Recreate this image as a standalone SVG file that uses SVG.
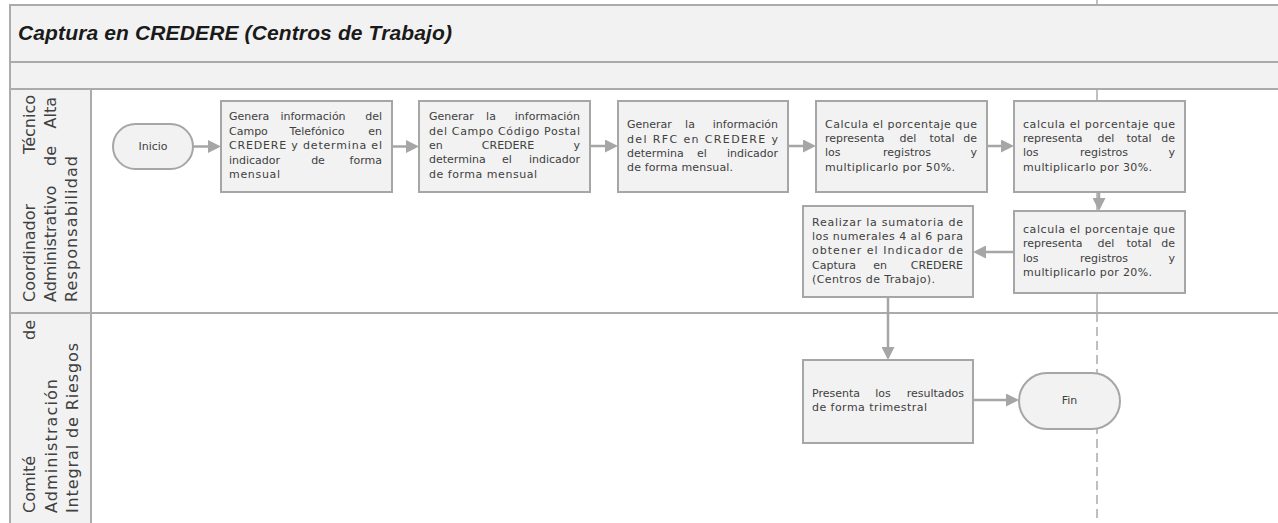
<svg xmlns="http://www.w3.org/2000/svg" width="1278" height="523" viewBox="0 0 1278 523">
<style>
.band{fill:#f2f2f2;stroke:#ababab;stroke-width:2}
.lane{fill:#ffffff;stroke:#ababab;stroke-width:2}
.hdr{fill:#f2f2f2;stroke:#ababab;stroke-width:2}
.box{fill:#f2f2f2;stroke:#a6a6a6;stroke-width:2}
.sep{stroke:#ababab;stroke-width:1.5;fill:none}
.dash{stroke:#ababab;stroke-width:1.5;fill:none;stroke-dasharray:9 5}
.conn{stroke:#a6a6a6;stroke-width:2.5;fill:none;marker-end:url(#ah)}
.t{font-family:"DejaVu Sans","Liberation Sans",sans-serif;font-size:11px;fill:#404040}
.lbl{font-family:"DejaVu Sans","Liberation Sans",sans-serif;font-size:16px;fill:#404040}
.title{font-family:"Liberation Sans",Arial,sans-serif;font-size:21px;font-weight:bold;font-style:italic;fill:#1a1a1a}
.m{text-anchor:middle}
.e{text-anchor:end}
</style>
<defs>
<marker id="ah" markerUnits="userSpaceOnUse" markerWidth="13" markerHeight="13" refX="2" refY="6.5" orient="auto">
<path d="M0,0 L13,6.5 L0,13 z" fill="#a6a6a6"/>
</marker>
</defs>
<rect x="0" y="0" width="1278" height="523" fill="#ffffff"/>
<g id="pool">
<line class="sep" x1="1097" y1="0" x2="1097" y2="5"/>
<rect class="band" x="10" y="5" width="1290" height="57"/>
<rect class="band" x="10" y="62" width="1290" height="27"/>
<text class="title" x="18" y="40" textLength="434" lengthAdjust="spacing">Captura en CREDERE (Centros de Trabajo)</text>
</g>
<g id="lane1">
<rect class="lane" x="10" y="89" width="1290" height="224"/>
<rect class="hdr" x="10" y="89" width="81" height="224"/>
<g transform="translate(35,302) rotate(-90)">
<text class="lbl" x="0" y="0">Coordinador</text>
<text class="lbl e" x="207" y="0">Técnico</text>
</g>
<g transform="translate(56,302) rotate(-90)">
<text class="lbl" x="0" y="0">Administrativo</text>
<text class="lbl m" x="146" y="0">de</text>
<text class="lbl e" x="205" y="0">Alta</text>
</g>
<g transform="translate(77,302) rotate(-90)">
<text class="lbl" x="0" y="0" textLength="146" lengthAdjust="spacing">Responsabilidad</text>
</g>
</g>
<g id="lane2">
<rect class="lane" x="10" y="313" width="1290" height="220"/>
<rect class="hdr" x="10" y="313" width="81" height="220"/>
<g transform="translate(35,513) rotate(-90)">
<text class="lbl" x="0" y="0">Comité</text>
<text class="lbl e" x="193" y="0">de</text>
</g>
<g transform="translate(57,513) rotate(-90)">
<text class="lbl" x="0" y="0" textLength="134" lengthAdjust="spacing">Administración</text>
</g>
<g transform="translate(78,513) rotate(-90)">
<text class="lbl" x="0" y="0" textLength="170" lengthAdjust="spacing">Integral de Riesgos</text>
</g>
</g>
<g id="phase-separator">
<line class="sep" x1="1097" y1="89" x2="1097" y2="313"/>
<line class="dash" x1="1097" y1="313" x2="1097" y2="523"/>
</g>
<g id="connectors">
<path class="conn" d="M193,146.5 H210"/>
<path class="conn" d="M392,146.5 H408"/>
<path class="conn" d="M590,146 H607"/>
<path class="conn" d="M788,146 H805"/>
<path class="conn" d="M987,146 H1003"/>
<path class="conn" d="M1099,192 V200"/>
<path class="conn" d="M1014,252 H984"/>
<path class="conn" d="M888,297 V349"/>
<path class="conn" d="M973,400 H1008"/>
</g>
<g id="inicio">
<rect class="box" x="113" y="124" width="80" height="45" rx="22.5"/>
<text class="t m" x="153" y="150">Inicio</text>
</g>
<g id="n1">
<rect class="box" x="221" y="101" width="171" height="91"/>
<text class="t" x="229" y="120">Genera</text><text class="t m" x="313" y="120">información</text><text class="t e" x="382" y="120">del</text>
<text class="t" x="229" y="134.5">Campo</text><text class="t m" x="317" y="134.5">Telefónico</text><text class="t e" x="382" y="134.5">en</text>
<text class="t" x="229" y="149" textLength="153" lengthAdjust="spacing">CREDERE y determina el</text>
<text class="t" x="229" y="163.5">indicador</text><text class="t m" x="318" y="163.5">de</text><text class="t e" x="382" y="163.5">forma</text>
<text class="t" x="229" y="178" textLength="51" lengthAdjust="spacing">mensual</text>
</g>
<g id="n2">
<rect class="box" x="419" y="101" width="171" height="91"/>
<text class="t" x="429" y="120">Generar</text><text class="t m" x="491" y="120">la</text><text class="t e" x="580" y="120">información</text>
<text class="t" x="429" y="134.5" textLength="151" lengthAdjust="spacing">del Campo Código Postal</text>
<text class="t" x="429" y="149">en</text><text class="t m" x="508" y="149">CREDERE</text><text class="t e" x="580" y="149">y</text>
<text class="t" x="429" y="163">determina</text><text class="t m" x="507" y="163">el</text><text class="t e" x="580" y="163">indicador</text>
<text class="t" x="429" y="177.5" textLength="108" lengthAdjust="spacing">de forma mensual</text>
</g>
<g id="n3">
<rect class="box" x="618" y="101" width="170" height="91"/>
<text class="t" x="627" y="128">Generar</text><text class="t m" x="690" y="128">la</text><text class="t e" x="778" y="128">información</text>
<text class="t" x="627" y="142.5" textLength="151" lengthAdjust="spacing">del RFC en CREDERE y</text>
<text class="t" x="627" y="157">determina</text><text class="t m" x="702" y="157">el</text><text class="t e" x="778" y="157">indicador</text>
<text class="t" x="627" y="171" textLength="106" lengthAdjust="spacing">de forma mensual.</text>
</g>
<g id="n4">
<rect class="box" x="816" y="101" width="171" height="91"/>
<text class="t" x="825" y="127.5" textLength="152" lengthAdjust="spacing">Calcula el porcentaje que</text>
<text class="t" x="825" y="142">representa</text><text class="t m" x="908" y="142">del</text><text class="t m" x="942" y="142">total</text><text class="t e" x="977" y="142">de</text>
<text class="t" x="825" y="156">los</text><text class="t m" x="907" y="156">registros</text><text class="t e" x="977" y="156">y</text>
<text class="t" x="825" y="170.5" textLength="130" lengthAdjust="spacing">multiplicarlo por 50%.</text>
</g>
<g id="n5">
<rect class="box" x="1014" y="101" width="171" height="91"/>
<text class="t" x="1023" y="127.5" textLength="152" lengthAdjust="spacing">calcula el porcentaje que</text>
<text class="t" x="1023" y="142">representa</text><text class="t m" x="1106" y="142">del</text><text class="t m" x="1139" y="142">total</text><text class="t e" x="1175" y="142">de</text>
<text class="t" x="1023" y="156">los</text><text class="t m" x="1104" y="156">registros</text><text class="t e" x="1175" y="156">y</text>
<text class="t" x="1023" y="170.5" textLength="129" lengthAdjust="spacing">multiplicarlo por 30%.</text>
</g>
<g id="n6">
<rect class="box" x="1014" y="211" width="171" height="82"/>
<text class="t" x="1023" y="232.5" textLength="152" lengthAdjust="spacing">calcula el porcentaje que</text>
<text class="t" x="1023" y="247">representa</text><text class="t m" x="1106" y="247">del</text><text class="t m" x="1139" y="247">total</text><text class="t e" x="1175" y="247">de</text>
<text class="t" x="1023" y="261.5">los</text><text class="t m" x="1104" y="261.5">registros</text><text class="t e" x="1175" y="261.5">y</text>
<text class="t" x="1023" y="276" textLength="129" lengthAdjust="spacing">multiplicarlo por 20%.</text>
</g>
<g id="n7">
<rect class="box" x="803" y="206" width="170" height="91"/>
<text class="t" x="812" y="225.5" textLength="151" lengthAdjust="spacing">Realizar la sumatoria de</text>
<text class="t" x="812" y="240" textLength="151" lengthAdjust="spacing">los numerales 4 al 6 para</text>
<text class="t" x="812" y="254" textLength="151" lengthAdjust="spacing">obtener el Indicador de</text>
<text class="t" x="812" y="268.5">Captura</text><text class="t m" x="880" y="268.5">en</text><text class="t e" x="963" y="268.5">CREDERE</text>
<text class="t" x="812" y="283" textLength="123" lengthAdjust="spacing">(Centros de Trabajo).</text>
</g>
<g id="n8">
<rect class="box" x="803" y="360" width="170" height="83"/>
<text class="t" x="812" y="397">Presenta</text><text class="t m" x="883" y="397">los</text><text class="t e" x="964" y="397">resultados</text>
<text class="t" x="812" y="411" textLength="115" lengthAdjust="spacing">de forma trimestral</text>
</g>
<g id="fin">
<rect class="box" x="1019" y="373" width="101" height="56" rx="28"/>
<text class="t m" x="1069.5" y="404">Fin</text>
</g>
</svg>
